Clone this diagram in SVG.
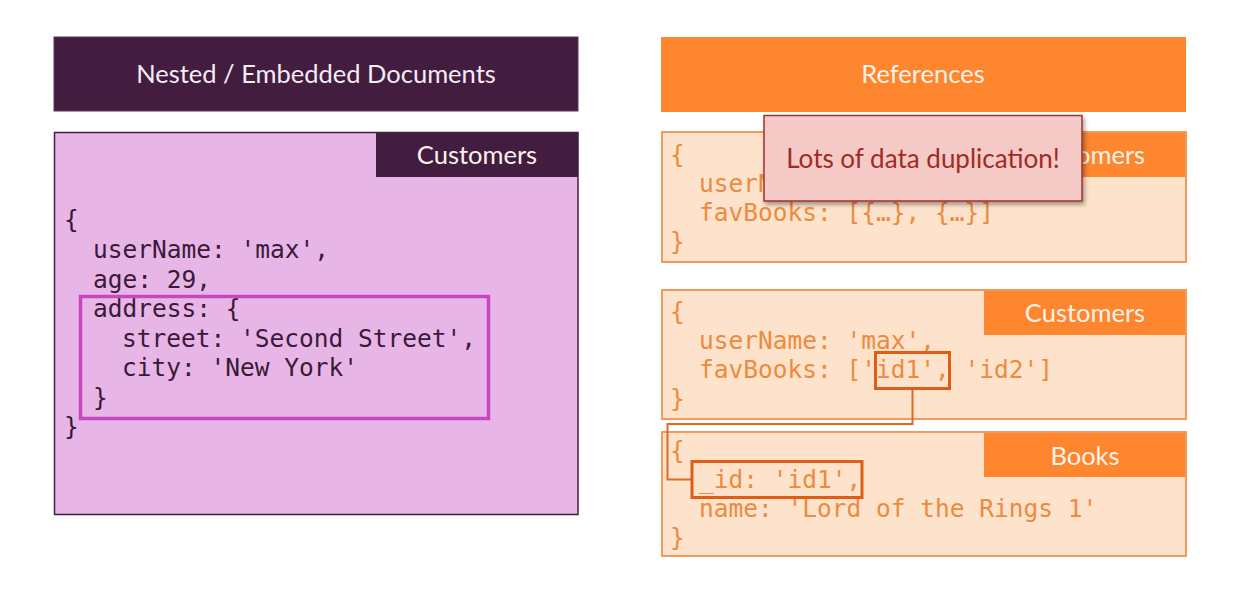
<svg xmlns="http://www.w3.org/2000/svg" width="1245" height="593" viewBox="0 0 1245 593">
  <defs>
    <style>
      .title { font-family: Lato, "Open Sans", sans-serif; font-size: 25.5px; fill: #f6ecf4; text-anchor: middle; }
      .tab { font-family: Lato, "Open Sans", sans-serif; font-size: 25.5px; fill: #fdf2ea; text-anchor: middle; }
      .codeL { font-family: "DejaVu Sans Mono", "Liberation Mono", monospace; font-size: 24.5px; fill: #3a1a38; }
      .codeR { font-family: "DejaVu Sans Mono", "Liberation Mono", monospace; font-size: 24.5px; fill: #ee8a3e; }
      .purple { fill: #431d40; }
      .pinkBox { fill: #e8b6e6; stroke: #431d40; stroke-width: 1.5; }
      .orange { fill: #fd862e; }
      .peachBox { fill: #fde3cc; stroke: #f3995a; stroke-width: 2; }
      .hlPink { fill: none; stroke: #c847c1; stroke-width: 3.5; }
      .hlOrange { fill: none; stroke: #df5e14; stroke-width: 3; }
      .link { fill: none; stroke: #df6a24; stroke-width: 2; }
      .note { fill: #f5c9c6; stroke: #a1302b; stroke-width: 1.5; }
      .noteText { font-family: Lato, "Open Sans", sans-serif; font-size: 26px; fill: #a12b24; text-anchor: middle; }
    </style>
    <filter id="shadow" x="-10%" y="-20%" width="125%" height="150%">
      <feDropShadow dx="2" dy="3" stdDeviation="2" flood-color="#000" flood-opacity="0.35"/>
    </filter>
  </defs>

  <!-- Left column: embedded documents -->
  <g id="embedded-header">
    <rect class="purple" x="54" y="37" width="524" height="74" stroke="#5a3a57" stroke-width="1"/>
    <text class="title" x="316" y="83">Nested / Embedded Documents</text>
  </g>

  <g id="embedded-customers">
    <rect class="pinkBox" x="54.5" y="132.5" width="523.5" height="382"/>
    <rect class="purple" x="376" y="132" width="202" height="45"/>
    <text class="tab" x="477" y="164">Customers</text>
    <text class="codeL" x="64" y="228">{</text>
    <text class="codeL" x="93" y="258">userName: 'max',</text>
    <text class="codeL" x="93" y="288">age: 29,</text>
    <text class="codeL" x="93" y="317">address: {</text>
    <text class="codeL" x="122" y="347">street: 'Second Street',</text>
    <text class="codeL" x="122" y="376">city: 'New York'</text>
    <text class="codeL" x="93" y="406">}</text>
    <text class="codeL" x="64" y="435">}</text>
  </g>

  <g id="address-highlight">
    <rect class="hlPink" x="80.5" y="296.5" width="408" height="122"/>
  </g>

  <!-- Right column: references -->
  <g id="references-header">
    <rect class="orange" x="661" y="37" width="525" height="75"/>
    <text class="tab" x="923" y="83">References</text>
  </g>

  <g id="ref-customers-full">
    <rect class="peachBox" x="662" y="132" width="524" height="130"/>
    <rect class="orange" x="984" y="133" width="201" height="44"/>
    <text class="tab" x="1085" y="164">Customers</text>
    <text class="codeR" x="670" y="163">{</text>
    <text class="codeR" x="699" y="192">userName: 'max',</text>
    <text class="codeR" x="699" y="221">favBooks: [{…}, {…}]</text>
    <text class="codeR" x="670" y="250">}</text>
  </g>

  <g id="ref-customers">
    <rect class="peachBox" x="662" y="290" width="524" height="129"/>
    <rect class="orange" x="984" y="291" width="201" height="44"/>
    <text class="tab" x="1085" y="322">Customers</text>
    <text class="codeR" x="670" y="320">{</text>
    <text class="codeR" x="699" y="349">userName: 'max',</text>
    <text class="codeR" x="699" y="378">favBooks: ['id1', 'id2']</text>
    <text class="codeR" x="670" y="407">}</text>
  </g>

  <g id="ref-books">
    <rect class="peachBox" x="662" y="432" width="524" height="124"/>
    <rect class="orange" x="984" y="433" width="201" height="44"/>
    <text class="tab" x="1085" y="465">Books</text>
    <text class="codeR" x="670" y="459">{</text>
    <text class="codeR" x="699" y="488">_id: 'id1',</text>
    <text class="codeR" x="699" y="517">name: 'Lord of the Rings 1'</text>
    <text class="codeR" x="670" y="546">}</text>
  </g>

  <g id="connectors">
    <polyline class="link" points="912.5,389 912.5,424 667.5,424 667.5,479.5 692,479.5"/>
  </g>

  <g id="id-highlights">
    <rect class="hlOrange" x="875.5" y="352.5" width="74" height="36"/>
    <rect class="hlOrange" x="692" y="461.5" width="170" height="36"/>
  </g>

  <g id="duplication-note">
    <rect class="note" x="764" y="115.5" width="318" height="85.5" filter="url(#shadow)"/>
    <text class="noteText" x="923" y="168">Lots of data duplication!</text>
  </g>
</svg>
